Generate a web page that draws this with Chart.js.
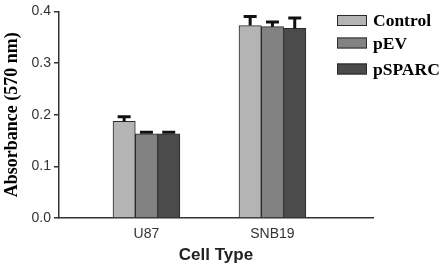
<!DOCTYPE html>
<html>
<head>
<meta charset="utf-8">
<script src="https://cdn.jsdelivr.net/npm/chart.js@4/dist/chart.umd.min.js"></script>
<style>
    body { margin: 0; background: #fff; }
    canvas { display: block; }
</style>
</head>
<body>
<canvas id="chart" width="446" height="268"></canvas>
<script>
// Dữ liệu
const cellTypes = ['U87', 'SNB19'];
const seriesNames = ['Control', 'pEV', 'pSPARC'];
const controlValues = [0.187, 0.3725];
const pevValues = [0.163, 0.3705];
const psparcValues = [0.163, 0.367];
const controlErrors = [0.009, 0.0175];
const pevErrors = [0.003, 0.009];
const psparcErrors = [0.003, 0.020];
const yTicks = [0, 0.1, 0.2, 0.3, 0.4];

const seriesColors = ['#b4b4b4', '#828282', '#4b4b4b'];
const allValues = [controlValues, pevValues, psparcValues];
const allErrors = [controlErrors, pevErrors, psparcErrors];

// Mỗi nhóm tế bào đặt tại x = 1, 2 trên trục tuyến tính
const datasets = seriesNames.map((name, s) => ({
    label: name,
    data: allValues[s].map((v, i) => ({ x: i + 1, y: v })),
    backgroundColor: seriesColors[s],
    borderColor: '#2a2a2a',
    borderWidth: 1,
    borderSkipped: 'bottom',
    barThickness: 22.3,
    errors: allErrors[s]
}));

// Vẽ thanh sai số (chỉ phía trên)
const errorBars = {
    id: 'errorBars',
    afterDatasetsDraw(chart) {
        const ctx = chart.ctx;
        const yScale = chart.scales.y;
        ctx.save();
        ctx.strokeStyle = '#111';
        ctx.lineWidth = 3;
        chart.data.datasets.forEach((ds, s) => {
            const meta = chart.getDatasetMeta(s);
            meta.data.forEach((bar, i) => {
                const top = yScale.getPixelForValue(ds.data[i].y + ds.errors[i]);
                ctx.beginPath();
                ctx.moveTo(bar.x, bar.y);
                ctx.lineTo(bar.x, top);
                ctx.moveTo(bar.x - 6.5, top);
                ctx.lineTo(bar.x + 6.5, top);
                ctx.stroke();
            });
        });
        ctx.restore();
    }
};

// Chú thích bên phải, chồng lên vùng trục
const legendRows = [20.5, 43, 69];
const sideLegend = {
    id: 'sideLegend',
    afterDraw(chart) {
        const ctx = chart.ctx;
        ctx.save();
        ctx.font = 'bold 17.5px "Liberation Serif", "Times New Roman", serif';
        ctx.textBaseline = 'middle';
        ctx.textAlign = 'left';
        chart.data.datasets.forEach((ds, s) => {
            const y = legendRows[s];
            ctx.fillStyle = ds.backgroundColor;
            ctx.fillRect(337, y - 5.5, 30, 11);
            ctx.strokeStyle = '#2a2a2a';
            ctx.lineWidth = 1;
            ctx.strokeRect(337.5, y - 5, 29, 10);
            ctx.fillStyle = '#000';
            ctx.fillText(ds.label, 373, y + 1);
        });
        ctx.restore();
    }
};

const config = {
    type: 'bar',
    data: { datasets: datasets },
    options: {
        responsive: false,
        animation: false,
        layout: { padding: { top: 10, right: 73, bottom: 0, left: 0 } },
        plugins: {
            legend: { display: false },
            tooltip: { enabled: false }
        },
        scales: {
            x: {
                type: 'linear',
                offset: false,
                min: 0.306,
                max: 2.798,
                grid: { display: false, drawTicks: false, offset: false },
                border: { display: true, color: '#333', width: 1.5 },
                afterBuildTicks(scale) {
                    scale.ticks = cellTypes.map((c, i) => ({ value: i + 1 }));
                },
                afterFit(scale) { scale.height = 50; },
                ticks: {
                    padding: 8,
                    color: '#333',
                    font: { family: '"Liberation Sans", Arial, sans-serif', size: 14 },
                    callback: (v) => cellTypes[v - 1]
                },
                title: {
                    display: true,
                    text: 'Cell Type',
                    color: '#222',
                    padding: { top: 0, bottom: 2 },
                    font: { family: '"Liberation Sans", Arial, sans-serif', size: 17, weight: 'bold' }
                }
            },
            y: {
                min: 0,
                max: 0.4,
                afterBuildTicks(scale) {
                    scale.ticks = yTicks.map(v => ({ value: v }));
                },
                afterFit(scale) { scale.width = 59; },
                grid: { drawOnChartArea: false, drawTicks: true, tickLength: 5, color: '#333', lineWidth: 1.5 },
                border: { display: true, color: '#333', width: 1.5 },
                ticks: {
                    padding: 3,
                    color: '#333',
                    font: { family: '"Liberation Sans", Arial, sans-serif', size: 14 },
                    callback: (v) => v.toFixed(1)
                },
                title: {
                    display: true,
                    text: 'Absorbance (570 nm)',
                    color: '#000',
                    padding: { top: 2, bottom: 0 },
                    font: { family: '"Liberation Serif", "Times New Roman", serif', size: 18, weight: 'bold' }
                }
            }
        }
    },
    plugins: [errorBars, sideLegend]
};

const barChart = new Chart(document.getElementById('chart'), config);
</script>
</body>
</html>
